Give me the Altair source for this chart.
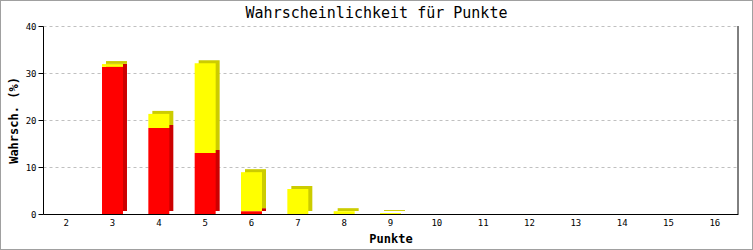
import altair as alt
import pandas as pd

punkte = [str(p) for p in range(2, 17)]
rot = [0, 31.3, 18.3, 13.0, 0.6, 0, 0, 0, 0, 0, 0, 0, 0, 0, 0]
gelb = [0, 0.6, 3.0, 19.1, 8.3, 5.3, 0.6, 0.2, 0, 0, 0, 0, 0, 0, 0]
y_ticks = [0, 10, 20, 30, 40]
titel = "Wahrscheinlichkeit für Punkte"

rows = []
for i, p in enumerate(punkte):
    rows.append({"Punkte": p, "Serie": "rot", "Wert": rot[i], "ord": 0})
    rows.append({"Punkte": p, "Serie": "gelb", "Wert": gelb[i], "ord": 1})
df = pd.DataFrame(rows)

W, H = 695, 188
FONT = "DejaVu Sans Mono"

x_enc = alt.X("Punkte:N", sort=punkte,
              scale=alt.Scale(paddingInner=0.547, paddingOuter=0.2735),
              axis=alt.Axis(title="Punkte", labelAngle=0, ticks=False, domainColor="black",
                            labelFont=FONT, labelFontSize=9, labelColor="black", labelPadding=4,
                            titleFont=FONT, titleFontSize=12, titleFontWeight="bold",
                            titleY=24, titleBaseline="middle", grid=False))
y_enc = alt.Y("Wert:Q", stack="zero",
              scale=alt.Scale(domain=[0, 40], nice=False),
              axis=alt.Axis(title="Wahrsch. (%)", values=y_ticks, tickSize=5, tickColor="black",
                            domainColor="black", labelFont=FONT, labelFontSize=9, labelColor="black",
                            labelPadding=2, titleFont=FONT, titleFontSize=12, titleFontWeight="bold",
                            titleX=-30, titleY=H / 2, titleAlign="center", titleBaseline="middle",
                            grid=True, gridColor="#c0c0c0", gridDash=[3, 3]))

base = alt.Chart(df)

dark = base.mark_bar(xOffset=4, yOffset=-3).encode(
    x=x_enc, y=y_enc,
    color=alt.Color("Serie:N", scale=alt.Scale(domain=["rot", "gelb"], range=["#cc0000", "#cccc00"]), legend=None),
    order=alt.Order("ord:Q"),
)
front = base.mark_bar().encode(
    x=x_enc, y=y_enc,
    color=alt.Color("Serie:N", scale=alt.Scale(domain=["rot", "gelb"], range=["#ff0000", "#ffff00"]), legend=None),
    order=alt.Order("ord:Q"),
)

single = pd.DataFrame({"t": [titel]})
right_line = alt.Chart(single).mark_rule(color="black", strokeWidth=1).encode(
    x=alt.value(W), y=alt.value(0), y2=alt.value(H))

frame = alt.Chart(single).mark_rect(fill=None, stroke="#a0a0a0", strokeWidth=2).encode(
    x=alt.value(-43), x2=alt.value(710), y=alt.value(-26), y2=alt.value(224))

title_text = alt.Chart(single).mark_text(font=FONT, fontSize=15, color="black",
                                         align="center", baseline="middle").encode(
    text="t:N", x=alt.value(333.5), y=alt.value(-13))

chart = alt.layer(dark, front, right_line, frame, title_text).resolve_scale(color="independent").properties(
    width=W, height=H,
    padding={"left": 43, "top": 26, "right": 15, "bottom": 36},
    autosize=alt.AutoSizeParams(type="none"),
    background="white",
).configure_view(stroke=None)

chart.save("out.html", embed_options={"renderer": "svg", "actions": False})
